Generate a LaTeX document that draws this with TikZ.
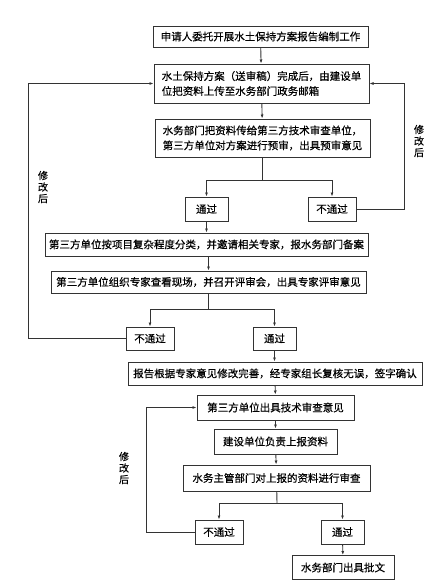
\documentclass[tikz,border=0pt]{standalone}
\usepackage{fontspec}
\newfontfamily\cjk[FakeBold=0.5]{Noto Sans CJK SC}
\usetikzlibrary{positioning,arrows.meta,calc}
\definecolor{cline}{HTML}{333333}

\begin{document}
\begin{tikzpicture}[x=1pt,y=-1pt,>={Latex[length=4pt,width=3pt]},
  font=\cjk\fontsize{10.5}{15}\selectfont,
  box/.style={draw=cline,line width=1pt,minimum width=#1,inner sep=2pt,align=left},
  pbox/.style={draw=cline,line width=1pt,minimum height=24pt,inner sep=2pt},
  arr/.style={->,draw=cline,line width=0.9pt},
  back/.style={font=\cjk\fontsize{10}{11.5}\selectfont,align=center}]
\useasboundingbox (0,0) rectangle (442,587);
% upper part
\node[box=215pt,minimum height=21pt] (apply) at (260.5,36.5) {申请人委托开展水土保持方案报告编制工作};
\node[box=215pt,minimum height=39pt] (upload) at (261.5,83.5)
  {水土保持方案（送审稿）完成后，由建设单\\位把资料上传至水务部门政务邮箱};
\node[box=215pt,minimum height=38pt] (prerev) at (262.5,138)
  {水务部门把资料传给第三方技术审查单位，\\第三方单位对方案进行预审，出具预审意见};
\node[pbox,minimum width=43pt] (pass1) at (206.5,209) {通过};
\node[pbox,minimum width=48pt] (fail1) at (332,209) {不通过};
% expert review
\node[box=323pt,minimum height=23pt] (classify) at (206.5,244.5)
  {第三方单位按项目复杂程度分类，并邀请相关专家，报水务部门备案};
\node[box=315pt,minimum height=22pt] (meeting) at (208.5,282)
  {第三方单位组织专家查看现场，并召开评审会，出具专家评审意见};
\node[pbox,minimum width=48pt,minimum height=23pt] (fail2) at (150,338.5) {不通过};
\node[pbox,minimum width=43pt,minimum height=23pt] (pass2) at (274.5,338.5) {通过};
\node[box=294pt,minimum height=23pt] (revise) at (275,373.5)
  {报告根据专家意见修改完善，经专家组长复核无误，签字确认};
% approval
\node[box=157pt,minimum height=25pt] (opinion) at (275.5,407.5) {第三方单位出具技术审查意见};
\node[box=123pt,minimum height=25pt] (submit) at (275.5,441.5) {建设单位负责上报资料};
\node[box=187pt,minimum height=26pt] (check) at (276.5,478) {水务主管部门对上报的资料进行审查};
\node[pbox,minimum width=48pt] (fail3) at (219,532) {不通过};
\node[pbox,minimum width=43pt] (pass3) at (342.5,532) {通过};
\node[box=102pt,minimum height=24pt] (permit) at (343,567.5) {水务部门出具批文};
% back labels
\node[back] (lab1) at (419,141) {修\\改\\后};
\node[back] (lab2) at (43,187) {修\\改\\后};
\node[back] (lab3) at (124,468) {修\\改\\后};
% junctions and loop corners
\coordinate (j1) at (262.5,180);
\coordinate (j2) at (208.5,309);
\coordinate (j3) at (277,503);
\coordinate (r1) at (404,83.5);
\coordinate (l1) at (28,83.5);
\coordinate (l2) at (146,407.5);
% connectors
\draw[arr] (apply) -- (upload);
\draw[arr] (upload) -- (prerev);
\draw[cline,line width=0.9pt] (prerev) -- (j1);
\draw[arr] (j1) -| (pass1);
\draw[arr] (j1) -| (fail1);
\draw[arr] (pass1) -- (pass1 |- classify.north);
\draw[arr] (classify.south -| meeting) -- (meeting);
\draw[cline,line width=0.9pt] (meeting) -- (j2);
\draw[arr] (j2) -| (fail2);
\draw[arr] (j2) -| (pass2);
\draw[arr] (pass2) -- (pass2 |- revise.north);
\draw[arr] (revise) -- (opinion);
\draw[arr] (opinion) -- (submit);
\draw[arr] (submit) -- (check);
\draw[cline,line width=0.9pt] (check) -- (j3);
\draw[arr] (j3) -| (fail3);
\draw[arr] (j3) -| (pass3);
\draw[arr] (pass3) -- (permit);
\draw[arr] (fail1) -| (r1) -- (upload);
\draw[arr] (fail2) -| (l1) -- (upload);
\draw[arr] (fail3) -| (l2) -- (opinion);
\end{tikzpicture}
\end{document}
